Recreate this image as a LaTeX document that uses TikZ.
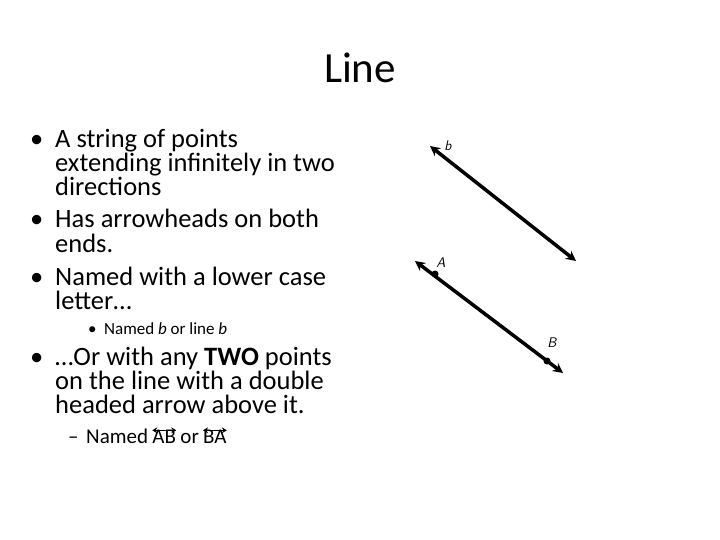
\documentclass[tikz,border=0pt]{standalone}
\usepackage{fontspec}
\setmainfont{Carlito}
\usetikzlibrary{arrows.meta}
\begin{document}
\begin{tikzpicture}[x=1pt,y=-1pt,
  big/.style={anchor=base west,inner sep=0,font=\fontsize{26.5}{26.5}\selectfont},
  mid/.style={anchor=base west,inner sep=0,font=\fontsize{21}{21}\selectfont},
  small/.style={anchor=base west,inner sep=0,font=\fontsize{17}{17}\selectfont},
  lbl/.style={inner sep=0,font=\sffamily\itshape\fontsize{14}{14}\selectfont},
  geoline/.style={line width=3.5pt,{Stealth[length=10pt,width=10pt]}-{Stealth[length=10pt,width=10pt]}},
  dot/.style={circle,fill,inner sep=0,minimum size=7pt}]
\path[use as bounding box] (0,0) rectangle (720,540);
\node[inner sep=0,font=\fontsize{43}{43}\selectfont] (title) at (360,68) {Line};
\node[big] (b1) at (30,148) {•}; \node[big] (t1) at (55,148) {A string of points};
\node[big] (t1b) at (55,172) {extending infinitely in two};
\node[big] (t1c) at (55,196) {directions};
\node[big] (b2) at (30,228) {•}; \node[big] (t2) at (55,228) {Has arrowheads on both};
\node[big] (t2b) at (55,252) {ends.};
\node[big] (b3) at (30,285) {•}; \node[big] (t3) at (55,285) {Named with a lower case};
\node[big] (t3b) at (55,309) {letter…};
\node[small] (b4) at (88,334) {•}; \node[small] (t4) at (104,334) {Named \textit{b} or line \textit{b}};
\node[big] (b5) at (30,365) {•}; \node[big] (t5) at (55,365) {…Or with any \textbf{TWO} points};
\node[big] (t5b) at (55,389) {on the line with a double};
\node[big] (t5c) at (55,413) {headed arrow above it.};
\node[mid] (d6) at (68,443) {–}; \node[mid] (t6) at (86,443) {Named};
\node[mid] (ab) at (t6.base east) [xshift=4pt] {AB};
\node[mid] (or) at (ab.base east) [xshift=4pt] {or};
\node[mid] (ba) at (or.base east) [xshift=4pt] {BA};
\draw[line width=1.6pt,{Stealth[length=5pt,width=6pt]}-{Stealth[length=5pt,width=6pt]}] ([yshift=-1pt]ab.north west) -- ([yshift=-1pt]ab.north east);
\draw[line width=1.6pt,{Stealth[length=5pt,width=6pt]}-{Stealth[length=5pt,width=6pt]}] ([yshift=-1pt]ba.north west) -- ([yshift=-1pt]ba.north east);
% line b
\coordinate (b0) at (430,146); \coordinate (b9) at (576,261);
\draw[geoline] (b0) -- (b9);
\node[lbl] (lb) at (448,146) {b};
% line AB
\coordinate (l0) at (415,261); \coordinate (l9) at (563,373);
\draw[geoline] (l0) -- (l9);
\node[dot] (A) at (435,274) {}; \node[dot] (B) at (547,361) {};
\node[lbl] (lA) at (441,263) {A};
\node[lbl] (lB) at (552,343) {B};
\end{tikzpicture}
\end{document}
